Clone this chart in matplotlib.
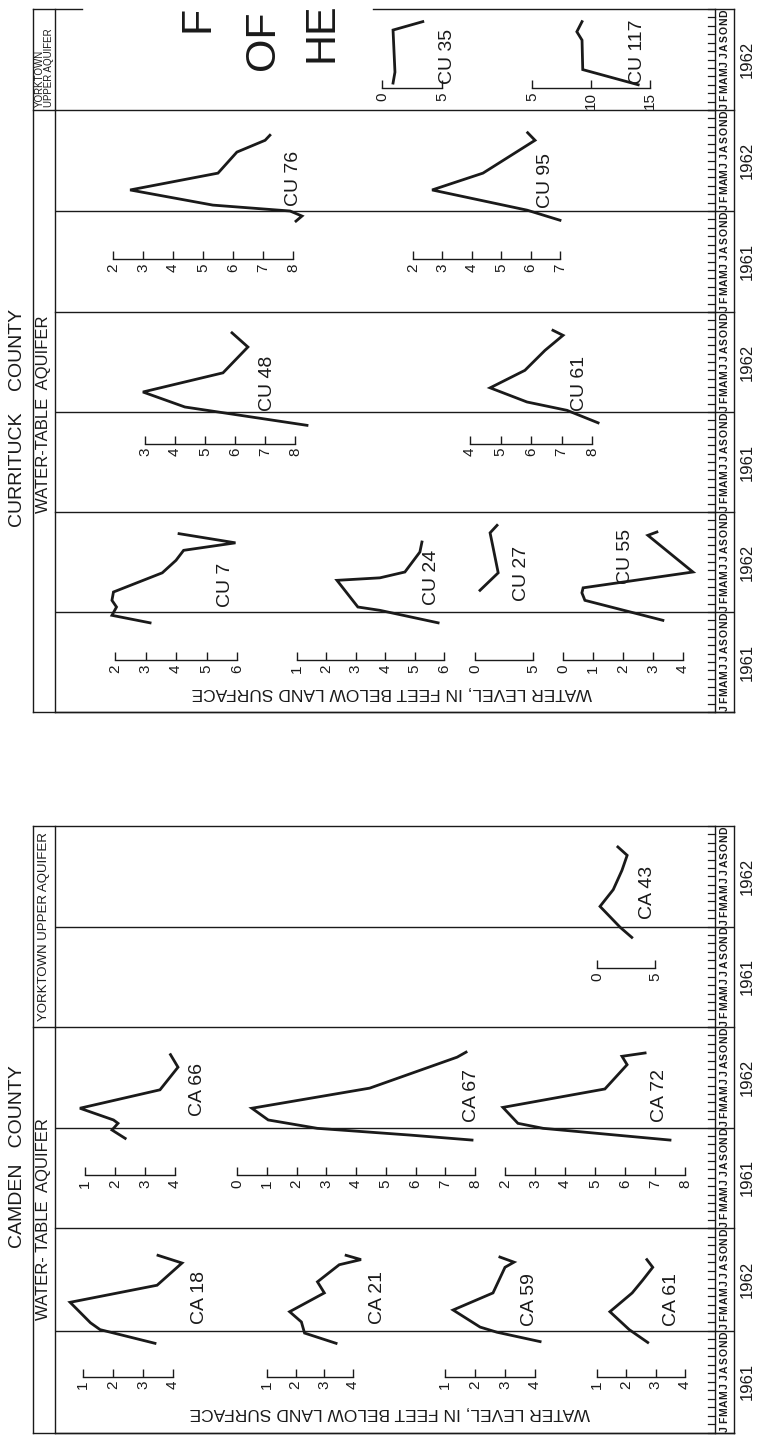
import matplotlib.pyplot as plt
from matplotlib import font_manager

# ---- hydrograph data: months counted from 1 Jan 1961, depth to water (ft) ----
CU7_MONTH = [10.7, 11.6, 12.6, 13.4, 14.4, 16.7, 18.2, 19.4, 20.3, 21.4]
CU7_FEET = [3.15, 1.9, 2.05, 1.9, 1.95, 3.55, 4.0, 4.25, 5.95, 4.1]
CU24_MONTH = [10.7, 12.2, 12.6, 15.8, 16.1, 16.8, 19.2, 20.4]
CU24_FEET = [5.8, 3.82, 3.07, 2.36, 3.82, 4.67, 5.18, 5.25]
CU27_MONTH = [14.6, 16.7, 19.8, 21.5, 22.4]
CU27_FEET = [0.43, 2.0, 1.55, 1.3, 1.9]
CU55_MONTH = [11.0, 13.4, 14.3, 14.9, 16.8, 21.2, 21.6]
CU55_FEET = [3.33, 0.73, 0.63, 0.67, 4.33, 2.83, 3.13]
CU48_MONTH = [10.4, 12.6, 14.4, 16.7, 19.8, 21.5]
CU48_FEET = [8.4, 4.33, 2.93, 5.6, 6.43, 5.9]
CU61_MONTH = [10.7, 12.2, 13.2, 14.9, 17.0, 19.4, 21.2, 21.8]
CU61_FEET = [8.2, 7.18, 5.87, 4.66, 5.8, 6.46, 7.05, 6.72]
CU76_MONTH = [10.8, 11.4, 12.0, 12.7, 14.5, 16.5, 19.0, 20.4, 21.0]
CU76_FEET = [8.1, 8.3, 7.9, 5.33, 2.57, 5.5, 6.13, 7.07, 7.23]
CU95_MONTH = [10.9, 12.1, 14.5, 16.5, 20.4, 21.3]
CU95_FEET = [7.0, 5.88, 2.65, 4.38, 6.15, 5.9]
CU35_MONTH = [15.2, 16.5, 21.5, 22.5]
CU35_FEET = [0.92, 1.08, 0.92, 3.4]
CU117_MONTH = [15.0, 16.8, 20.3, 21.3, 22.5]
CU117_FEET = [14.0, 9.3, 9.24, 8.8, 9.24]

CA18_MONTH = [10.5, 12.1, 12.9, 15.3, 17.3, 19.9, 20.8]
CA18_FEET = [3.4, 1.57, 1.25, 0.57, 3.47, 4.3, 3.5]
CA21_MONTH = [10.5, 11.7, 13.0, 14.2, 16.4, 17.7, 19.7, 20.3, 20.8]
CA21_FEET = [3.41, 2.31, 2.2, 1.79, 3.0, 2.76, 3.52, 4.28, 3.76]
CA59_MONTH = [10.7, 11.8, 12.4, 14.4, 16.4, 19.4, 20.0, 20.6]
CA59_FEET = [4.17, 2.73, 2.17, 1.27, 2.6, 3.0, 3.3, 2.83]
CA61_MONTH = [10.6, 12.1, 14.2, 16.4, 17.9, 19.4, 20.3]
CA61_FEET = [2.73, 2.1, 1.44, 2.2, 2.56, 2.9, 2.7]
CA66_MONTH = [10.7, 11.7, 12.5, 12.9, 14.3, 16.5, 19.2, 20.7]
CA66_FEET = [2.34, 1.9, 2.1, 1.95, 0.83, 3.5, 4.1, 3.85]
CA67_MONTH = [10.5, 11.1, 11.9, 12.9, 14.3, 16.7, 20.4, 21.0]
CA67_FEET = [7.9, 5.8, 2.7, 1.05, 0.5, 4.46, 7.4, 7.7]
CA72_MONTH = [10.5, 11.9, 12.5, 14.4, 16.6, 19.5, 20.5, 20.9]
CA72_FEET = [7.5, 3.27, 2.43, 1.93, 5.33, 6.07, 5.9, 6.67]
CA43_MONTH = [10.7, 11.9, 14.4, 16.4, 18.7, 20.5, 21.5]
CA43_FEET = [3.0, 2.0, 0.26, 1.4, 2.15, 2.6, 1.8]

MONTH_LETTERS = list("JFMAMJJASOND")
YEARS = ["1961", "1962"]

# ---- page layout (pixels of the 760 x 1437 sheet) ----
W, H = 760, 1437
LEFT, HEAD, STRIP, RIGHT = 33, 55, 715, 734
INK = "#1a1a1a"
LW = 1.0

BLOCKS = {
    "CU_A": dict(top=512, bottom=712, t0=0, t1=24, scale_t=6.2),
    "CU_B": dict(top=312, bottom=512, t0=0, t1=24, scale_t=8.2),
    "CU_C": dict(top=110, bottom=312, t0=0, t1=24, scale_t=6.3),
    "CU_D": dict(top=9, bottom=110, t0=12, t1=24, scale_t=14.6),
    "CA_1": dict(top=1228, bottom=1433, t0=0, t1=24, scale_t=6.6),
    "CA_2": dict(top=1027, bottom=1228, t0=0, t1=24, scale_t=6.3),
    "CA_3": dict(top=826, bottom=1027, t0=0, t1=24, scale_t=7.0),
}

WELLS = [
    ("CU 7", CU7_MONTH, CU7_FEET, "CU_A", [2, 3, 4, 5, 6], (115, 237), (226, 585)),
    ("CU 24", CU24_MONTH, CU24_FEET, "CU_A", [1, 2, 3, 4, 5, 6], (297, 444), (432, 577)),
    ("CU 27", CU27_MONTH, CU27_FEET, "CU_A", [0, 5], (475, 533), (521, 573)),
    ("CU 55", CU55_MONTH, CU55_FEET, "CU_A", [0, 1, 2, 3, 4], (563, 683), (626, 556)),
    ("CU 48", CU48_MONTH, CU48_FEET, "CU_B", [3, 4, 5, 6, 7, 8], (145, 295), (267, 383)),
    ("CU 61", CU61_MONTH, CU61_FEET, "CU_B", [4, 5, 6, 7, 8], (470, 592), (580, 383)),
    ("CU 76", CU76_MONTH, CU76_FEET, "CU_C", [2, 3, 4, 5, 6, 7, 8], (113, 293), (293, 178)),
    ("CU 95", CU95_MONTH, CU95_FEET, "CU_C", [2, 3, 4, 5, 6, 7], (413, 560), (545, 180)),
    ("CU 35", CU35_MONTH, CU35_FEET, "CU_D", [0, 5], (382, 442), (448, 56)),
    ("CU 117", CU117_MONTH, CU117_FEET, "CU_D", [5, 10, 15], (532, 650), (638, 52)),
    ("CA 18", CA18_MONTH, CA18_FEET, "CA_1", [1, 2, 3, 4], (83, 173), (200, 1297)),
    ("CA 21", CA21_MONTH, CA21_FEET, "CA_1", [1, 2, 3, 4], (267, 353), (378, 1297)),
    ("CA 59", CA59_MONTH, CA59_FEET, "CA_1", [1, 2, 3, 4], (445, 535), (530, 1300)),
    ("CA 61", CA61_MONTH, CA61_FEET, "CA_1", [1, 2, 3, 4], (597, 685), (672, 1300)),
    ("CA 66", CA66_MONTH, CA66_FEET, "CA_2", [1, 2, 3, 4], (85, 175), (197, 1090)),
    ("CA 67", CA67_MONTH, CA67_FEET, "CA_2", [0, 1, 2, 3, 4, 5, 6, 7, 8], (237, 475), (471, 1095)),
    ("CA 72", CA72_MONTH, CA72_FEET, "CA_2", [2, 3, 4, 5, 6, 7, 8], (505, 685), (660, 1095)),
    ("CA 43", CA43_MONTH, CA43_FEET, "CA_3", [0, 5], (597, 655), (648, 892)),
]

names = {f.name for f in font_manager.fontManager.ttflist}
BASE = "Liberation Sans" if "Liberation Sans" in names else "DejaVu Sans"
plt.rcParams["font.family"] = [BASE, "DejaVu Sans"]


def rect(x0, x1, y_top, y_bot):
    return [x0 / W, 1 - y_bot / H, (x1 - x0) / W, (y_bot - y_top) / H]


fig = plt.figure(figsize=(W / 100, H / 100), dpi=100)
frame = fig.add_axes([0, 0, 1, 1])
frame.set_xlim(0, W)
frame.set_ylim(H, 0)
frame.axis("off")

# panel outlines
for top, bottom, gap in [(9, 712, (82, 373)), (826, 1433, None)]:
    for x in (LEFT, HEAD, STRIP, RIGHT):
        frame.plot([x, x], [top, bottom], color=INK, lw=LW)
    frame.plot([LEFT, RIGHT], [bottom, bottom], color=INK, lw=LW)
    if gap:
        frame.plot([LEFT, gap[0]], [top, top], color=INK, lw=LW)
        frame.plot([gap[1], RIGHT], [top, top], color=INK, lw=LW)
    else:
        frame.plot([LEFT, RIGHT], [top, top], color=INK, lw=LW)
frame.plot([LEFT, HEAD], [110, 110], color=INK, lw=LW)
frame.plot([LEFT, HEAD], [1027, 1027], color=INK, lw=LW)

# time blocks: year lines, month ticks, month letters, years
for key, b in BLOCKS.items():
    ax = fig.add_axes(rect(HEAD, RIGHT, b["top"], b["bottom"]))
    ax.set_xlim(HEAD, RIGHT)
    ax.set_ylim(b["t0"], b["t1"])
    ax.axis("off")
    ax.axhline(b["t0"], color=INK, lw=LW, clip_on=False)
    if b["t0"] < 12 < b["t1"]:
        ax.axhline(12, color=INK, lw=LW)
    for m in range(b["t0"], b["t1"] + 1):
        ax.plot([STRIP - 7, STRIP], [m, m], color=INK, lw=0.9, clip_on=False)
    for m in range(b["t0"], b["t1"]):
        ax.text((STRIP + RIGHT) / 2, m + 0.5, MONTH_LETTERS[m % 12], rotation=90,
                ha="center", va="center", fontsize=7.5, fontweight="bold", color=INK)
    for y0 in range(b["t0"], b["t1"], 12):
        ax.text(747, y0 + 6, YEARS[y0 // 12], rotation=90, ha="center", va="center",
                fontsize=12, color=INK)

# hydrographs with their own depth scale bars
for name, months, feet, key, ticks, px, label_xy in WELLS:
    b = BLOCKS[key]
    ax = fig.add_axes(rect(px[0], px[1], b["top"], b["bottom"]))
    ax.patch.set_visible(False)
    ax.set_xlim(ticks[0], ticks[-1])
    ax.set_ylim(b["t0"], b["t1"])
    for s in ("left", "right", "top"):
        ax.spines[s].set_visible(False)
    ax.spines["bottom"].set_position(("data", b["scale_t"]))
    ax.spines["bottom"].set_linewidth(LW)
    ax.spines["bottom"].set_color(INK)
    ax.set_yticks([])
    ax.set_xticks(ticks)
    ax.set_xticklabels([str(t) for t in ticks])
    ax.tick_params(axis="x", direction="in", length=6, width=LW, pad=3,
                   labelsize=11, labelrotation=90, colors=INK)
    ax.plot(feet, months, color=INK, lw=2.0, clip_on=False, solid_joinstyle="miter")
    frame.text(label_xy[0], label_xy[1], name, rotation=90, ha="center", va="center",
               fontsize=14, color=INK)

# axis captions (rotated 180: the page is turned sideways)
frame.text(392, 693, "WATER LEVEL, IN FEET BELOW LAND SURFACE", rotation=180,
           ha="center", va="center", fontsize=12.5, color=INK)
frame.text(390, 1413, "WATER LEVEL, IN FEET BELOW LAND SURFACE", rotation=180,
           ha="center", va="center", fontsize=12.5, color=INK)

# headers
frame.text(18, 418, "CURRITUCK    COUNTY", rotation=90, ha="center", va="center",
           fontsize=14, color=INK)
frame.text(44, 414, "WATER-TABLE  AQUIFER", rotation=90, ha="center", va="center",
           fontsize=12, color=INK)
frame.text(39.5, 107, "YORKTOWN", rotation=90, ha="center", va="bottom", fontsize=7,
           color=INK)
frame.text(48.5, 107, "UPPER AQUIFER", rotation=90, ha="center", va="bottom",
           fontsize=7, color=INK)
frame.text(18, 1157, "CAMDEN   COUNTY", rotation=90, ha="center", va="center",
           fontsize=14, color=INK)
frame.text(44, 1219, "WATER- TABLE  AQUIFER", rotation=90, ha="center", va="center",
           fontsize=12, color=INK)
frame.text(44, 927, "YORKTOWN UPPER AQUIFER", rotation=90, ha="center", va="center",
           fontsize=9.5, color=INK)

# title fragments visible at the top edge of the sheet
for x, y0, line in [(197, 32, "F"), (263, 70, "OF"), (322, 62, "HE")]:
    frame.text(x, y0, line, rotation=90, ha="center", va="bottom", fontsize=31,
               color=INK)

fig.savefig("out.png", dpi=100)
